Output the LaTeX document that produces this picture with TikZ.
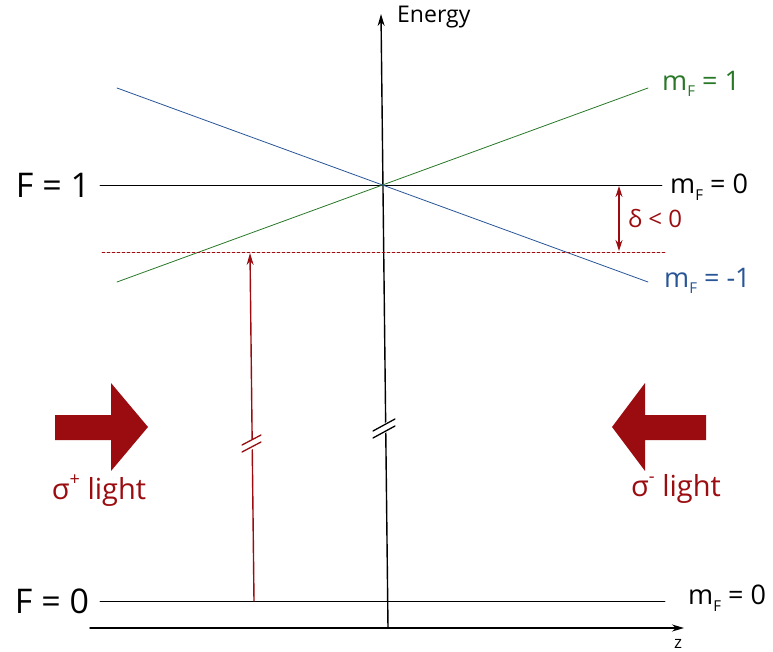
\documentclass[tikz,border=0pt]{standalone}
\usepackage{fontspec}
\setmainfont{Open Sans}
\usetikzlibrary{arrows.meta,calc,positioning}

\definecolor{darkred}{RGB}{155,12,16}
\definecolor{lvlgreen}{RGB}{40,120,40}
\definecolor{lvlblue}{RGB}{40,85,150}
\newcommand{\mF}{m\raisebox{-0.45ex}{\fontsize{15}{15}\selectfont F}}

\tikzset{
    level/.style={line width=0.8pt},
    axis/.style={line width=1.4pt, -{Stealth[length=12pt,width=7pt]}},
    breakmark/.style={line width=1.3pt},
    bigarrow/.style={fill=darkred, draw=none},
    lbl/.style={inner sep=0pt, anchor=west},
    mlbl/.style={lbl, font=\fontsize{27}{27}\selectfont},
}

\begin{document}
\begin{tikzpicture}[x=1pt, y=-1pt, line join=round, line cap=round]
    \useasboundingbox (0,0) rectangle (773,652);

    % axes
    \coordinate (zstart) at (90,628);
    \coordinate (zend) at (684,628);
    \coordinate (ebot) at (388,628);
    \coordinate (etop) at (381,14);
    \draw[axis] (zstart) -- (zend);
    \draw[axis] (ebot) -- (etop);
    \node[lbl, font=\fontsize{23}{23}\selectfont] (energy) at (397,17) {Energy};
    \node[font=\fontsize{17}{17}\selectfont] (zlbl) at (678,644) {z};

    % axis break
    \fill[white] (372,430) -- (396,417) -- (396,427) -- (372,440) -- cycle;
    \draw[breakmark] (373,431) -- (395,419);
    \draw[breakmark] (373,438) -- (395,426);

    % F = 1 levels
    \coordinate (f1l) at (100,185);
    \coordinate (f1r) at (662,185);
    \draw[level] (f1l) -- (f1r);
    \coordinate (gl) at (117,282);
    \coordinate (gr) at (648,88);
    \draw[level, lvlgreen] (gl) -- (gr);
    \coordinate (bl) at (117,88);
    \coordinate (br) at (648,282);
    \draw[level, lvlblue] (bl) -- (br);
    \coordinate (dl) at (102,252);
    \coordinate (dr) at (665,252);
    \draw[level, darkred, dash pattern=on 3pt off 2pt] (dl) -- (dr);

    % detuning
    \coordinate (dtop) at (619,186);
    \coordinate (dbot) at (619,251);
    \draw[line width=1.1pt, darkred, {Stealth[length=11pt,width=7pt]}-{Stealth[length=11pt,width=7pt]}] (dtop) -- (dbot);
    \node[lbl, darkred, font=\fontsize{24}{24}\selectfont] (delta) at (628,219) {δ < 0};

    % labels of F = 1
    \node[font=\fontsize{34}{34}\selectfont] (F1) at (53,185) {F = 1};
    \node[mlbl] (m0) at (670,187) {\mF\ = 0};
    \node[mlbl, lvlgreen] (m1) at (662,84) {\mF\ = 1};
    \node[mlbl, lvlblue] (mm1) at (664,281) {\mF\ = -1};

    % F = 0 level
    \coordinate (f0l) at (100,601);
    \coordinate (f0r) at (665,601);
    \draw[level] (f0l) -- (f0r);
    \node[font=\fontsize{34}{34}\selectfont] (F0) at (52,601) {F = 0};
    \node[mlbl] (m00) at (688,598) {\mF\ = 0};

    % excitation
    \coordinate (ebase) at (254,601);
    \coordinate (etip) at (250,253);
    \draw[line width=1.4pt, darkred, -{Stealth[length=12pt,width=7pt]}] (ebase) -- (etip);
    \fill[white] (240,446) -- (262,434) -- (262,444) -- (240,456) -- cycle;
    \draw[breakmark, darkred] (242,445) -- (261,435);
    \draw[breakmark, darkred] (242,452) -- (261,442);

    % light beams
    \fill[bigarrow] (55,415) -- (111,415) -- (111,383) -- (148,427) -- (111,471) -- (111,440) -- (55,440) -- cycle;
    \fill[bigarrow] (706,415) -- (645,415) -- (645,383) -- (612,427) -- (645,471) -- (645,440) -- (706,440) -- cycle;
    \node[darkred, font=\fontsize{29}{29}\selectfont] (sigp) at (99,491) {σ\raisebox{0.9ex}{\fontsize{18}{18}\selectfont +} light};
    \node[darkred, font=\fontsize{29}{29}\selectfont] (sigm) at (676,489) {σ\raisebox{0.9ex}{\fontsize{18}{18}\selectfont -} light};
\end{tikzpicture}
\end{document}
